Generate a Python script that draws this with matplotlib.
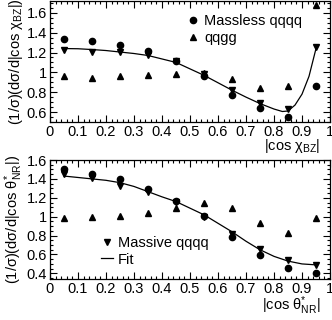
import matplotlib
matplotlib.use("Agg")
import matplotlib.pyplot as plt
from matplotlib.ticker import MultipleLocator, FixedLocator, FixedFormatter

plt.rcParams['font.family'] = ['Liberation Sans', 'DejaVu Sans']
plt.rcParams['mathtext.fontset'] = 'custom'
plt.rcParams['mathtext.rm'] = 'Liberation Sans'
plt.rcParams['mathtext.it'] = 'Liberation Sans:italic'
plt.rcParams['mathtext.default'] = 'rm'

x = [0.05, 0.15, 0.25, 0.35, 0.45, 0.55, 0.65, 0.75, 0.85, 0.95]

# Top panel: |cos chi_BZ|
bz_massless = [1.34, 1.32, 1.28, 1.22, 1.11, 0.96, 0.77, 0.64, 0.55, 0.86]
bz_massive = [1.23, 1.21, 1.21, 1.17, 1.11, 0.98, 0.82, 0.69, 0.63, 1.26]
bz_qqgg = [0.96, 0.94, 0.96, 0.97, 0.98, 0.99, 0.93, 0.84, 0.86, 1.68]
bz_fit_x = [0.05, 0.10, 0.15, 0.20, 0.25, 0.30, 0.35, 0.40, 0.45, 0.50, 0.55,
            0.60, 0.65, 0.70, 0.75, 0.80, 0.83, 0.85, 0.875, 0.90, 0.925, 0.95]
bz_fit_y = [1.24, 1.238, 1.23, 1.22, 1.205, 1.19, 1.17, 1.135, 1.10, 1.035, 0.97,
            0.895, 0.82, 0.75, 0.685, 0.63, 0.605, 0.61, 0.67, 0.78, 0.96, 1.24]

# Bottom panel: |cos theta*_NR|
nr_massless = [1.51, 1.456, 1.40, 1.29, 1.17, 1.01, 0.78, 0.59, 0.46, 0.40]
nr_massive = [1.456, 1.41, 1.33, 1.26, 1.16, 1.00, 0.82, 0.66, 0.54, 0.49]
nr_qqgg = [0.99, 1.00, 1.01, 1.04, 1.09, 1.14, 1.09, 0.93, 0.83, 0.99]
nr_fit_x = [0.05, 0.10, 0.15, 0.20, 0.25, 0.30, 0.35, 0.40, 0.45, 0.50,
            0.55, 0.60, 0.65, 0.70, 0.75, 0.80, 0.85, 0.90, 0.95]
nr_fit_y = [1.43, 1.415, 1.40, 1.385, 1.36, 1.32, 1.265, 1.21, 1.16, 1.09,
            1.02, 0.93, 0.84, 0.74, 0.65, 0.58, 0.53, 0.50, 0.49]

xticks = [0, 0.1, 0.2, 0.3, 0.4, 0.5, 0.6, 0.7, 0.8, 0.9, 1]
xticklabels = ['0', '0.1', '0.2', '0.3', '0.4', '0.5', '0.6', '0.7', '0.8', '0.9', '1']
top_yticks = [0.6, 0.8, 1.0, 1.2, 1.4, 1.6]
top_yticklabels = ['0.6', '0.8', '1', '1.2', '1.4', '1.6']
bot_yticks = [0.4, 0.6, 0.8, 1.0, 1.2, 1.4, 1.6]
bot_yticklabels = ['0.4', '0.6', '0.8', '1', '1.2', '1.4', '1.6']

fig = plt.figure(figsize=(3.32, 3.2), dpi=100)
ax1 = fig.add_axes([0.1506, 0.619, 0.8434, 0.378])
ax2 = fig.add_axes([0.1506, 0.128, 0.8434, 0.372])

ms = 4.5
fs = 10.5

def style(ax, yticks, yticklabels, ylim):
    ax.set_xlim(0, 1)
    ax.set_ylim(*ylim)
    ax.xaxis.set_major_locator(FixedLocator(xticks))
    ax.xaxis.set_major_formatter(FixedFormatter(xticklabels))
    ax.xaxis.set_minor_locator(MultipleLocator(0.02))
    ax.yaxis.set_major_locator(FixedLocator(yticks))
    ax.yaxis.set_major_formatter(FixedFormatter(yticklabels))
    ax.yaxis.set_minor_locator(MultipleLocator(0.05))
    ax.tick_params(which='both', direction='in', top=True, right=True,
                   labelsize=fs, width=0.8)
    ax.tick_params(which='major', length=5)
    ax.tick_params(which='minor', length=2.5)
    ax.tick_params(axis='x', pad=2)
    ax.tick_params(axis='y', pad=2)
    for s in ax.spines.values():
        s.set_linewidth(0.9)

leg_kw = dict(frameon=False, fontsize=fs, handlelength=0.8, handletextpad=0.35,
              borderpad=0.0, borderaxespad=0.0, labelspacing=0.2)

# top
ax1.plot(bz_fit_x, bz_fit_y, '-', color='black', lw=0.9)
ax1.plot(x, bz_massive, 'v', color='black', ms=ms, ls='none')
ax1.plot(x, bz_massless, 'o', color='black', ms=ms, ls='none', label='Massless qqqq')
ax1.plot(x, bz_qqgg, '^', color='black', ms=ms - 0.5, ls='none', label='qqgg')
style(ax1, top_yticks, top_yticklabels, (0.5, 1.72))
ax1.legend(loc='center left', bbox_to_anchor=(0.49, 0.764), **leg_kw)
ax1.set_ylabel('(1/σ)(dσ/d|cos χ$_{\\mathrm{BZ}}$|)', fontsize=fs, labelpad=1)
ax1.text(0.965, -0.125, '|cos χ$_{\\mathrm{BZ}}$|', transform=ax1.transAxes,
         ha='right', va='top', fontsize=fs)

# bottom
ln, = ax2.plot(nr_fit_x, nr_fit_y, '-', color='black', lw=0.9, label='Fit')
mv, = ax2.plot(x, nr_massive, 'v', color='black', ms=ms, ls='none', label='Massive qqqq')
ax2.plot(x, nr_massless, 'o', color='black', ms=ms, ls='none')
ax2.plot(x, nr_qqgg, '^', color='black', ms=ms - 0.5, ls='none')
style(ax2, bot_yticks, bot_yticklabels, (0.34, 1.6))
ax2.legend(handles=[mv, ln], loc='center left', bbox_to_anchor=(0.182, 0.235), **leg_kw)
ax2.set_ylabel('(1/σ)(dσ/d|cos θ$^{*}_{\\mathrm{NR}}$|)', fontsize=fs, labelpad=1)
ax2.text(0.965, -0.125, '|cos θ$^{*}_{\\mathrm{NR}}$|', transform=ax2.transAxes,
         ha='right', va='top', fontsize=fs)

fig.savefig('out.png', dpi=100)
